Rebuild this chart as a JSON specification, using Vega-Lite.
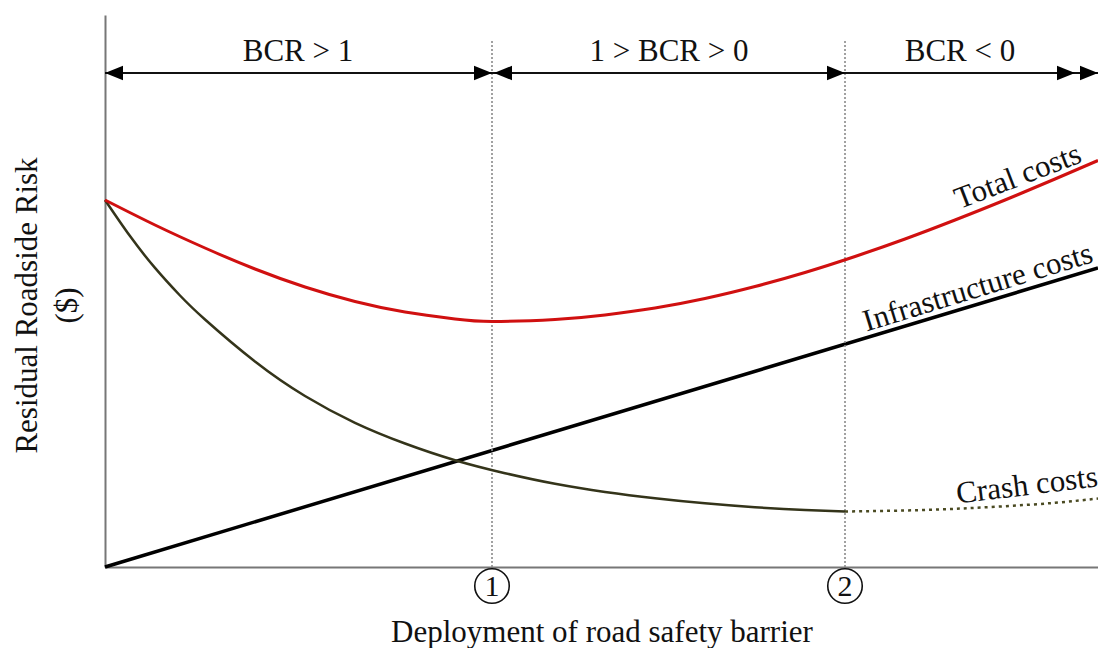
{
  "$schema": "https://vega.github.io/schema/vega-lite/v6.json",
  "width": 993,
  "height": 552,
  "autosize": "none",
  "padding": {"left": 105, "top": 15, "right": 0, "bottom": 81},
  "background": "white",
  "config": {"view": {"stroke": null}, "font": "Liberation Serif"},
  "datasets": {
    "infra": [{"x": 0, "y": 0}, {"x": 993, "y": 299}],
    "crash": [
      {"x": 0, "y": 367}, {"x": 25, "y": 330.9}, {"x": 50, "y": 299.1}, {"x": 75, "y": 271.5},
      {"x": 100, "y": 247.5}, {"x": 150, "y": 205.5}, {"x": 200, "y": 171}, {"x": 250, "y": 144.2},
      {"x": 300, "y": 123.5}, {"x": 350, "y": 106.8}, {"x": 400, "y": 93.8}, {"x": 450, "y": 83.2},
      {"x": 500, "y": 75.1}, {"x": 550, "y": 68.8}, {"x": 600, "y": 63.7}, {"x": 650, "y": 59.8},
      {"x": 700, "y": 57}, {"x": 740, "y": 55.5}
    ],
    "crashDotted": [
      {"x": 740, "y": 55.5}, {"x": 800, "y": 56.5}, {"x": 850, "y": 58.2}, {"x": 900, "y": 60.8},
      {"x": 950, "y": 64.2}, {"x": 993, "y": 68.5}
    ],
    "total": [
      {"x": 0, "y": 367}, {"x": 50, "y": 342}, {"x": 100, "y": 319}, {"x": 150, "y": 298},
      {"x": 200, "y": 280}, {"x": 250, "y": 265.5}, {"x": 300, "y": 255}, {"x": 350, "y": 248},
      {"x": 387, "y": 245.5}, {"x": 450, "y": 247.5}, {"x": 500, "y": 252}, {"x": 550, "y": 259},
      {"x": 600, "y": 268.5}, {"x": 650, "y": 280.5}, {"x": 700, "y": 294.5}, {"x": 750, "y": 310.5},
      {"x": 800, "y": 328}, {"x": 850, "y": 347}, {"x": 900, "y": 367}, {"x": 950, "y": 388},
      {"x": 993, "y": 406.5}
    ],
    "markers": [{"x": 387, "label": "1"}, {"x": 740, "label": "2"}],
    "arrowLine": [{"x": 0, "x2": 993, "y": 494}],
    "headsRight": [{"x": 387, "y": 494}, {"x": 740, "y": 494}, {"x": 970, "y": 494}, {"x": 993, "y": 494}],
    "headsLeft": [{"x": 0, "y": 494}, {"x": 389, "y": 494}],
    "regions": [
      {"x": 193, "y": 515, "label": "BCR > 1"},
      {"x": 564, "y": 515, "label": "1 > BCR > 0"},
      {"x": 855, "y": 515, "label": "BCR < 0"}
    ]
  },
  "layer": [
    {
      "data": {"name": "infra"},
      "mark": {"type": "line", "color": "#000000", "strokeWidth": 3.5},
      "encoding": {
        "x": {
          "field": "x", "type": "quantitative",
          "scale": {"domain": [0, 993], "nice": false, "zero": false},
          "axis": {
            "title": "Deployment of road safety barrier",
            "ticks": false, "labels": false, "grid": false,
            "domainColor": "#777777", "domainWidth": 2,
            "titleFont": "Liberation Serif", "titleFontSize": 31, "titleFontWeight": "normal",
            "titleColor": "#111111", "titlePadding": 50
          }
        },
        "y": {
          "field": "y", "type": "quantitative",
          "scale": {"domain": [0, 552], "nice": false, "zero": false},
          "axis": {
            "title": ["Residual Roadside Risk", "($)"],
            "ticks": false, "labels": false, "grid": false,
            "domainColor": "#777777", "domainWidth": 2,
            "titleFont": "Liberation Serif", "titleFontSize": 31, "titleFontWeight": "normal",
            "titleColor": "#111111", "titlePadding": 22, "titleLineHeight": 40, "titleY": 290
          }
        }
      }
    },
    {
      "data": {"name": "markers"},
      "mark": {"type": "rule", "color": "#8a8a8a", "strokeWidth": 1.6, "strokeDash": [2, 2]},
      "encoding": {
        "x": {"field": "x", "type": "quantitative"},
        "y": {"datum": 0, "type": "quantitative"},
        "y2": {"datum": 527}
      }
    },
    {
      "data": {"name": "crash"},
      "mark": {"type": "line", "color": "#34341a", "strokeWidth": 2.5, "interpolate": "natural"},
      "encoding": {"x": {"field": "x", "type": "quantitative"}, "y": {"field": "y", "type": "quantitative"}}
    },
    {
      "data": {"name": "crashDotted"},
      "mark": {"type": "line", "color": "#4a4a22", "strokeWidth": 2.5, "strokeDash": [3, 4], "interpolate": "natural"},
      "encoding": {"x": {"field": "x", "type": "quantitative"}, "y": {"field": "y", "type": "quantitative"}}
    },
    {
      "data": {"name": "total"},
      "mark": {"type": "line", "color": "#d01010", "strokeWidth": 3, "interpolate": "natural"},
      "encoding": {"x": {"field": "x", "type": "quantitative"}, "y": {"field": "y", "type": "quantitative"}}
    },
    {
      "data": {"name": "arrowLine"},
      "mark": {"type": "rule", "color": "#111111", "strokeWidth": 2},
      "encoding": {
        "x": {"field": "x", "type": "quantitative"},
        "x2": {"field": "x2"},
        "y": {"field": "y", "type": "quantitative"}
      }
    },
    {
      "data": {"name": "headsRight"},
      "mark": {"type": "point", "shape": "M0,0L-2,-0.8L-2,0.8Z", "size": 324, "filled": true, "color": "#000000", "opacity": 1},
      "encoding": {"x": {"field": "x", "type": "quantitative"}, "y": {"field": "y", "type": "quantitative"}}
    },
    {
      "data": {"name": "headsLeft"},
      "mark": {"type": "point", "shape": "M0,0L2,-0.8L2,0.8Z", "size": 324, "filled": true, "color": "#000000", "opacity": 1},
      "encoding": {"x": {"field": "x", "type": "quantitative"}, "y": {"field": "y", "type": "quantitative"}}
    },
    {
      "data": {"name": "regions"},
      "mark": {"type": "text", "fontSize": 31, "font": "Liberation Serif", "color": "#111111", "baseline": "middle", "align": "center"},
      "encoding": {"x": {"field": "x", "type": "quantitative"}, "y": {"field": "y", "type": "quantitative"}, "text": {"field": "label"}}
    },
    {
      "data": {"values": [{"x": 913, "y": 390, "label": "Total costs"}]},
      "mark": {"type": "text", "fontSize": 31, "font": "Liberation Serif", "color": "#111111", "baseline": "middle", "align": "center", "angle": -21},
      "encoding": {"x": {"field": "x", "type": "quantitative"}, "y": {"field": "y", "type": "quantitative"}, "text": {"field": "label"}}
    },
    {
      "data": {"values": [{"x": 873, "y": 279, "label": "Infrastructure costs"}]},
      "mark": {"type": "text", "fontSize": 31, "font": "Liberation Serif", "color": "#111111", "baseline": "middle", "align": "center", "angle": -17},
      "encoding": {"x": {"field": "x", "type": "quantitative"}, "y": {"field": "y", "type": "quantitative"}, "text": {"field": "label"}}
    },
    {
      "data": {"values": [{"x": 922, "y": 81, "label": "Crash costs"}]},
      "mark": {"type": "text", "fontSize": 31, "font": "Liberation Serif", "color": "#111111", "baseline": "middle", "align": "center", "angle": -7},
      "encoding": {"x": {"field": "x", "type": "quantitative"}, "y": {"field": "y", "type": "quantitative"}, "text": {"field": "label"}}
    },
    {
      "data": {"name": "markers"},
      "mark": {"type": "point", "shape": "circle", "size": 1190, "filled": false, "color": "#111111", "strokeWidth": 1.6, "opacity": 1},
      "encoding": {"x": {"field": "x", "type": "quantitative"}, "y": {"datum": -19, "type": "quantitative"}}
    },
    {
      "data": {"name": "markers"},
      "mark": {"type": "text", "fontSize": 30, "font": "Liberation Serif", "color": "#111111", "baseline": "middle", "align": "center", "dy": 1},
      "encoding": {"x": {"field": "x", "type": "quantitative"}, "y": {"datum": -19, "type": "quantitative"}, "text": {"field": "label"}}
    }
  ]
}
